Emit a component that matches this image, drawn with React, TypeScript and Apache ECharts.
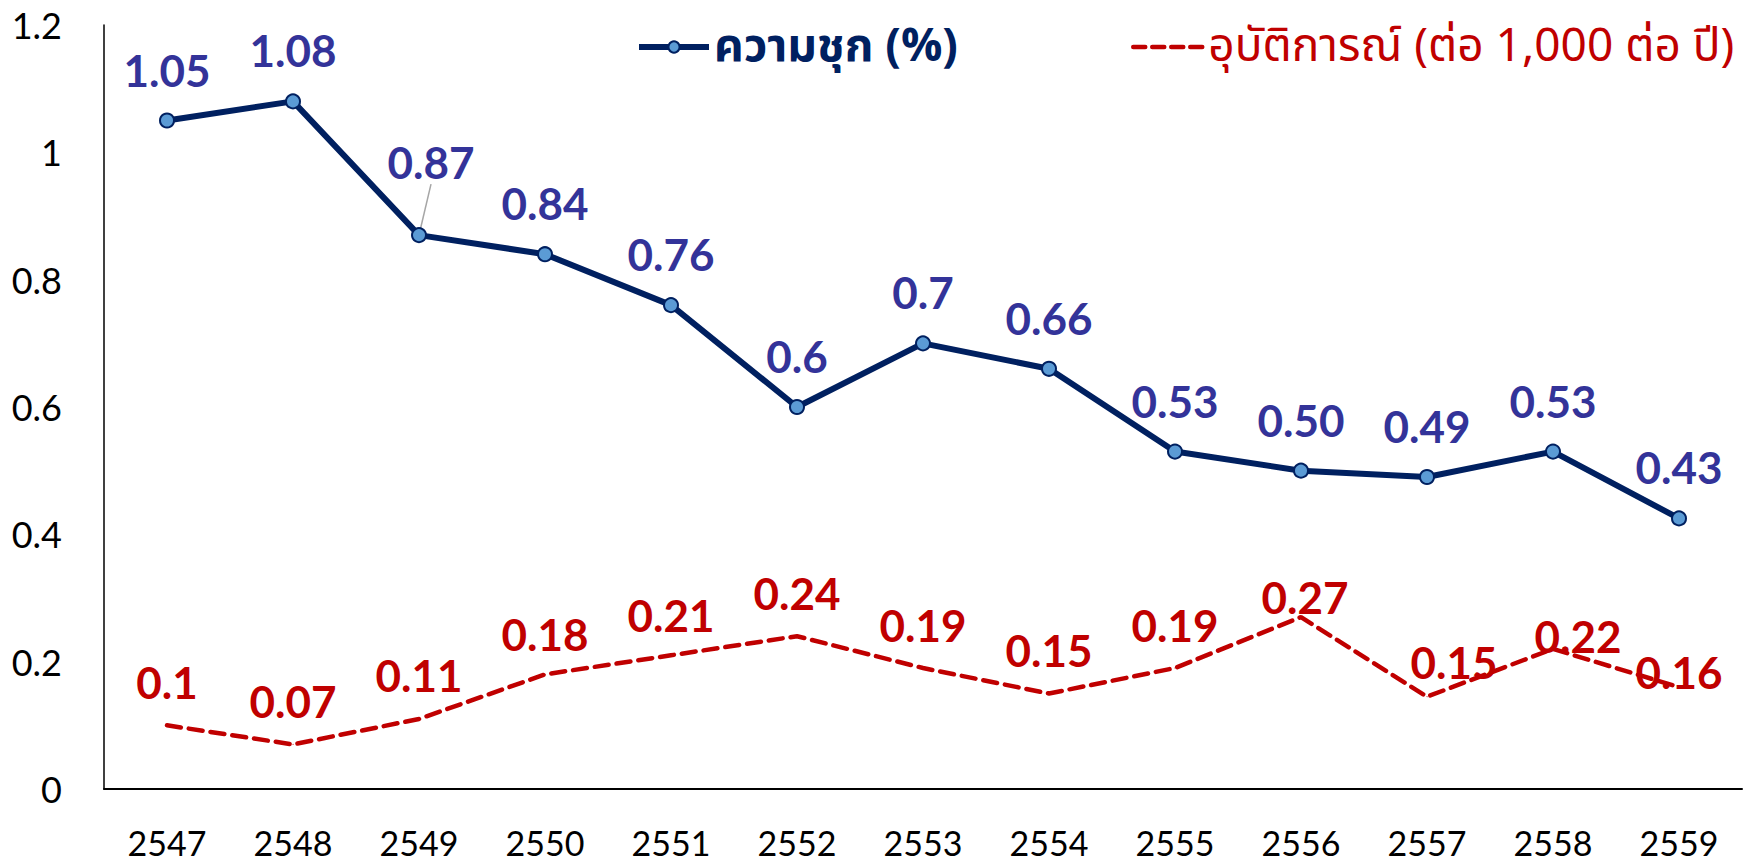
import React, { useEffect, useRef } from "react";
import * as echarts from "echarts";

const years = ["2547", "2548", "2549", "2550", "2551", "2552", "2553", "2554", "2555", "2556", "2557", "2558", "2559"];
const prevalence = [1.05, 1.08, 0.87, 0.84, 0.76, 0.6, 0.7, 0.66, 0.53, 0.5, 0.49, 0.53, 0.425];
const prevalenceLabels = ["1.05", "1.08", "0.87", "0.84", "0.76", "0.6", "0.7", "0.66", "0.53", "0.50", "0.49", "0.53", "0.43"];
const incidence = [0.1, 0.07, 0.11, 0.18, 0.21, 0.24, 0.19, 0.15, 0.19, 0.27, 0.145, 0.22, 0.16];
const incidenceLabels = ["0.1", "0.07", "0.11", "0.18", "0.21", "0.24", "0.19", "0.15", "0.19", "0.27", "0.15", "0.22", "0.16"];
const yTicks = { min: 0, max: 1.2, interval: 0.2 };
const seriesNames = ["ความชุก (%)", "อุบัติการณ์ (ต่อ 1,000 ต่อ ปี)"];

// label nudges (layout only)
const blueNudge: Record<number, [number, number]> = { 2: [12, -22], 11: [0, 21], 12: [20, 10] };
const redNudge: Record<number, [number, number]> = { 3: [0, 3], 4: [0, 3], 9: [4, 23], 10: [27, 9], 11: [25, 31], 12: [0, 28] };

const NAVY = "#002060";
const BLUE_LABEL = "#333399";
const RED = "#C00000";
const FONT = "Lato, 'Noto Sans', sans-serif";
const THAI_FONT = "'Noto Sans Thai', 'Noto Sans', Lato, sans-serif";

export default function App() {
  const ref = useRef<HTMLDivElement>(null);
  useEffect(() => {
    if (!ref.current) return;
    const chart = echarts.init(ref.current, undefined, { renderer: "svg" });
    const labelBase = {
      show: true,
      position: "top" as const,
      distance: 21,
      fontFamily: FONT,
      fontWeight: "bold" as const,
      fontSize: 44,
    };
    chart.setOption({
      animation: false,
      backgroundColor: "#ffffff",
      grid: { left: 104, right: 18, top: 25, bottom: 74, containLabel: false },
      legend: [
        {
          left: 631,
          top: 19,
          itemWidth: 70,
          itemHeight: 14,
          data: [{ name: seriesNames[0], textStyle: { color: NAVY } }],
          lineStyle: { width: 6, color: NAVY },
          textStyle: { fontFamily: THAI_FONT, fontSize: 46, fontWeight: "bold" },
        },
        {
          left: 1126,
          top: 19,
          itemWidth: 70,
          itemHeight: 14,
          data: [{ name: seriesNames[1], textStyle: { color: RED } }],
          lineStyle: { width: 4.5, color: RED, type: [12, 7], cap: "round" },
          itemStyle: { opacity: 0 },
          textStyle: { fontFamily: THAI_FONT, fontSize: 46 },
        },
      ],
      xAxis: {
        type: "category",
        data: years,
        boundaryGap: true,
        axisLine: { show: true, lineStyle: { color: "#000", width: 2 } },
        axisTick: { show: false },
        axisLabel: { color: "#000", fontFamily: FONT, fontSize: 34, margin: 36 },
        splitLine: { show: false },
      },
      yAxis: {
        type: "value",
        min: yTicks.min,
        max: yTicks.max,
        interval: yTicks.interval,
        axisLine: { show: true, lineStyle: { color: "#000", width: 1.5 } },
        axisTick: { show: false },
        axisLabel: { color: "#000", fontFamily: FONT, fontSize: 36, margin: 42 },
        splitLine: { show: false },
      },
      series: [
        {
          name: seriesNames[1],
          type: "line",
          data: incidence.map((v, i) => ({
            value: v,
            label: { formatter: incidenceLabels[i], offset: redNudge[i] || [0, 0] },
          })),
          symbol: "circle",
          symbolSize: 1,
          showAllSymbol: true,
          lineStyle: { color: RED, width: 4.5, type: [14, 8], cap: "round" },
          itemStyle: { color: RED },
          label: { ...labelBase, color: RED },
          z: 2,
        },
        {
          name: seriesNames[0],
          type: "line",
          data: prevalence.map((v, i) => {
            const n = blueNudge[i];
            const item: any = { value: v, label: { formatter: prevalenceLabels[i] } };
            if (n && i !== 2) item.label.offset = n;
            if (i === 2) item.labelLine = { show: true, lineStyle: { color: "#a6a6a6", width: 1.5 } };
            return item;
          }),
          symbol: "circle",
          symbolSize: 14,
          showAllSymbol: true,
          lineStyle: { color: NAVY, width: 6 },
          itemStyle: { color: "#5B9BD5", borderColor: NAVY, borderWidth: 2 },
          label: { ...labelBase, color: BLUE_LABEL },
          labelLayout: (p: any) => (p.dataIndex === 2 ? { dx: blueNudge[2][0], dy: blueNudge[2][1] } : {}),
          z: 3,
        },
      ],
    });
    return () => chart.dispose();
  }, []);
  return (
    <div
      ref={ref}
      style={{ position: "fixed", left: 0, top: 0, width: 1760, height: 863, background: "#fff" }}
    />
  );
}
